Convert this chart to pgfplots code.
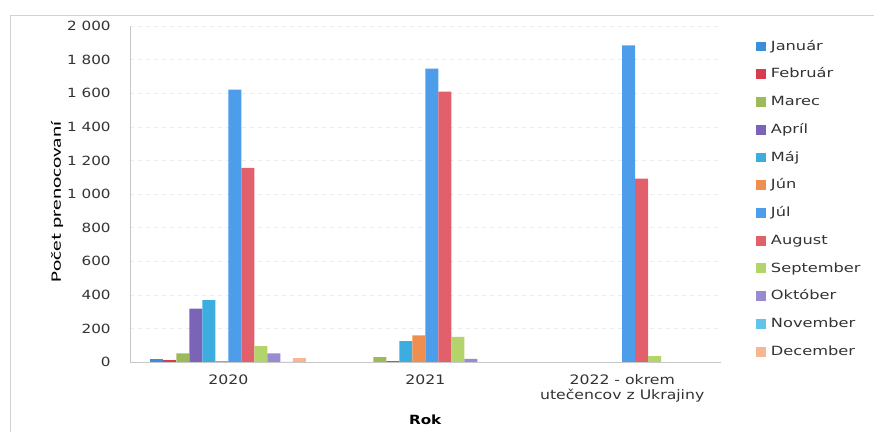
\documentclass[border=0pt]{standalone}
\usepackage{fontspec}
\setmainfont{DejaVu Sans}[FakeStretch=1.2]
\newfontfamily\wide{DejaVu Sans}[FakeStretch=1.28]
\newfontfamily\calib{Carlito}[FakeStretch=1.48]
\usepackage{pgfplots}
\pgfplotsset{compat=1.18}

\definecolor{cJan}{HTML}{3A8EDB}
\definecolor{cFeb}{HTML}{D83B4B}
\definecolor{cMar}{HTML}{9BBB59}
\definecolor{cApr}{HTML}{7B64B8}
\definecolor{cMaj}{HTML}{3DADE0}
\definecolor{cJun}{HTML}{F08E50}
\definecolor{cJul}{HTML}{4D9DEB}
\definecolor{cAug}{HTML}{E2606C}
\definecolor{cSep}{HTML}{B3D36B}
\definecolor{cOkt}{HTML}{9A8AD2}
\definecolor{cNov}{HTML}{62C4EB}
\definecolor{cDec}{HTML}{F7B594}

\begin{document}
\begin{tikzpicture}
  \path[use as bounding box] (0,0) rectangle (655.5pt,324pt);
  % faint chart frame (left and top edge)
  \draw[gray!35] (7.5pt,0) -- (7.5pt,312.75pt) -- (655.5pt,312.75pt);
  % y axis title
  \node[rotate=90, font=\calib\fontsize{10.8}{12}\selectfont] at (42.75pt,172.5pt) {Počet prenocovaní};
  \begin{axis}[
    at={(97.5pt,52.5pt)}, anchor=south west,
    scale only axis, width=443pt, height=252pt,
    ybar=0pt, bar width=9.75pt,
    xmin=-0.5, xmax=2.5, ymin=0, ymax=2000,
    xtick={0,1,2},
    xticklabels={2020, 2021, {2022 - okrem\\utečencov z Ukrajiny}},
    xticklabel style={align=center, font=\fontsize{9.8}{11.5}\selectfont, text=black!80, yshift=-6pt},
    ytick={0,200,...,2000},
    yticklabel style={font=\fontsize{9.5}{10}\selectfont, text=black!80, xshift=-11pt},
    /pgf/number format/assume math mode=true,
    /pgf/number format/1000 sep={\ },
    major tick length=0pt,
    axis x line*=bottom, axis y line*=left,
    axis line style={gray!45},
    ymajorgrids, grid style={gray!15, dashed},
    xlabel={\textbf{Rok}},
    xlabel style={font=\fontsize{9.5}{10}\selectfont, at={(axis description cs:0.5,-0.172)}, anchor=center},
    legend style={at={(1.052,0.485)}, anchor=west, draw=none,
      font=\wide\fontsize{9.5}{11}\selectfont, text=black!80, row sep=8.3pt,
      nodes={inner sep=1.5pt, text height=7.5pt, text depth=2pt},
      /tikz/every odd column/.append style={column sep=2.5pt}},
    legend cell align=left,
    legend image code/.code={\fill[#1] (0pt,-3.7pt) rectangle (7.5pt,3.7pt);},
    every axis plot/.append style={draw=none},
  ]
    \addplot[fill=cJan] coordinates {(0,15)};
    \addplot[fill=cFeb] coordinates {(0,10)};
    \addplot[fill=cMar] coordinates {(0,52) (1,29)};
    \addplot[fill=cApr] coordinates {(0,318) (1,5)};
    \addplot[fill=cMaj] coordinates {(0,368) (1,124)};
    \addplot[fill=cJun] coordinates {(0,5) (1,158)};
    \addplot[fill=cJul] coordinates {(0,1622) (1,1747) (2,1884)};
    \addplot[fill=cAug] coordinates {(0,1155) (1,1610) (2,1092)};
    \addplot[fill=cSep] coordinates {(0,94) (1,150) (2,35)};
    \addplot[fill=cOkt] coordinates {(0,52) (1,19)};
    \addplot[fill=cNov] coordinates {(0,0)};
    \addplot[fill=cDec] coordinates {(0,25)};
    \legend{Január, Február, Marec, Apríl, Máj, Jún, Júl, August, September, Október, November, December}
  \end{axis}
\end{tikzpicture}
\end{document}
